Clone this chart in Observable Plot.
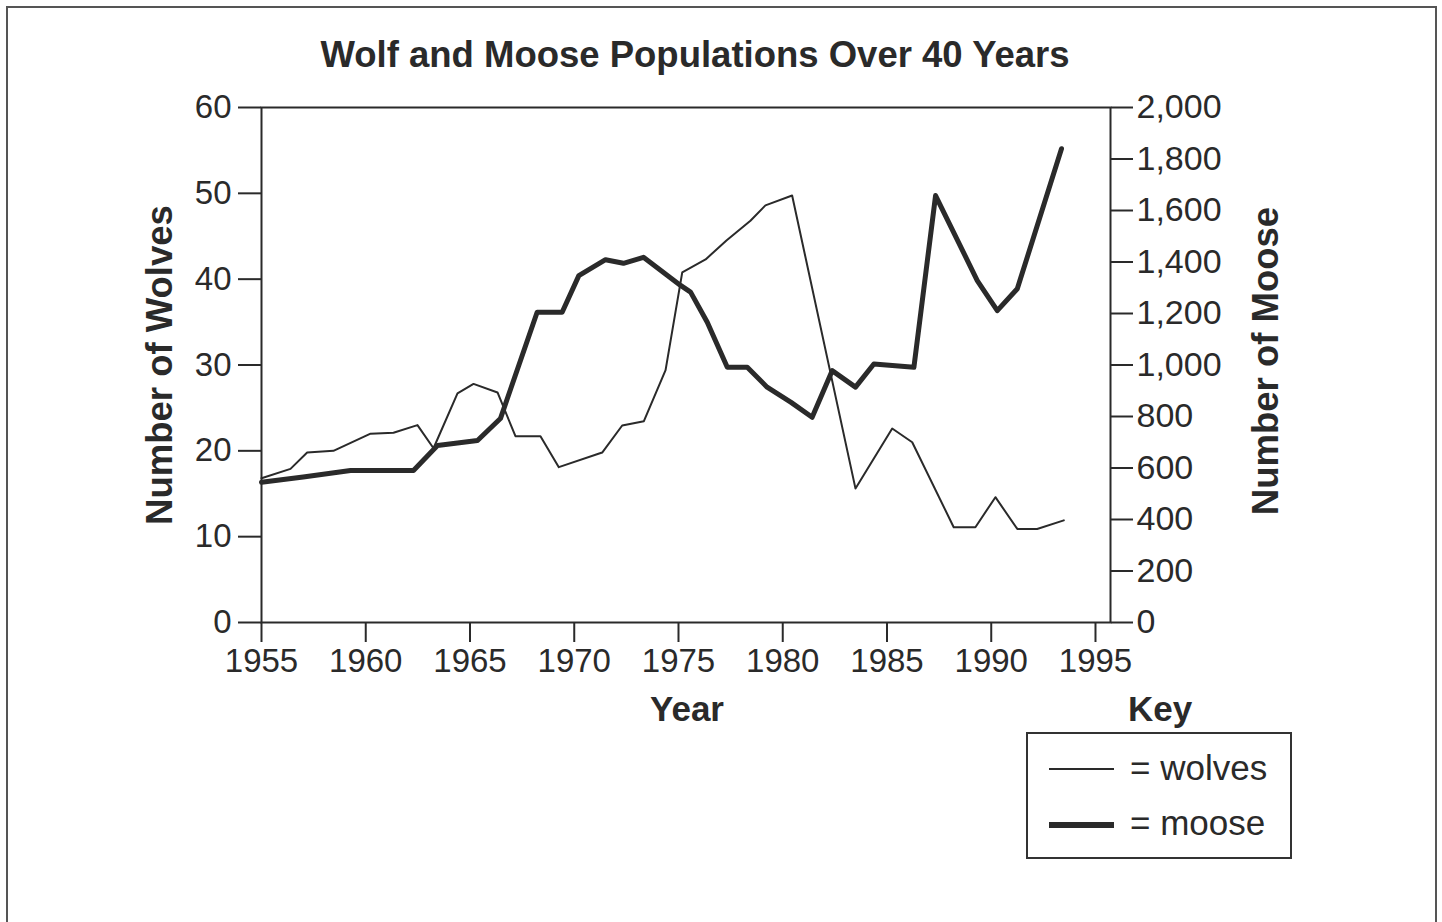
<!DOCTYPE html>
<html>
<head>
<meta charset="utf-8">
<script src="https://cdn.jsdelivr.net/npm/d3@7"></script>
<script src="https://cdn.jsdelivr.net/npm/@observablehq/plot@0.6"></script>
<style>
  html, body { margin: 0; padding: 0; background: #fff; }
  #page { position: relative; width: 1442px; height: 922px; overflow: hidden; font-family: "Liberation Sans", Arial, sans-serif; color: #2a2a2a; }
  #border { position: absolute; left: 6px; top: 6px; width: 1431px; height: 940px; border: 2px solid #555; box-sizing: border-box; }
  #chart { position: absolute; left: 0; top: 0; }
  .t { position: absolute; white-space: nowrap; line-height: 1; }
  #title { left: 695px; top: 37px; transform: translateX(-50%); font-weight: bold; font-size: 36.5px; }
  #xlabel { left: 687px; top: 691px; transform: translateX(-50%); font-weight: bold; font-size: 35px; }
  #ylabel { left: 160px; top: 365px; transform: translate(-50%, -50%) rotate(-90deg); font-weight: bold; font-size: 36.5px; }
  #y2label { left: 1266px; top: 361px; transform: translate(-50%, -50%) rotate(-90deg); font-weight: bold; font-size: 36.5px; }
  #key { left: 1160px; top: 691px; transform: translateX(-50%); font-weight: bold; font-size: 35px; }
  #legend { position: absolute; left: 1026px; top: 732px; width: 266px; height: 127px; border: 2px solid #333; box-sizing: border-box; }
  .row { position: absolute; left: 0; width: 262px; height: 40px; }
  .sw { position: absolute; left: 21px; width: 65px; background: #2a2a2a; }
  .lt { position: absolute; left: 102px; font-size: 35px; line-height: 1; white-space: nowrap; }
</style>
</head>
<body>
<div id="page">
  <div id="border"></div>
  <div id="chart"></div>
  <div class="t" id="title">Wolf and Moose Populations Over 40 Years</div>
  <div class="t" id="xlabel">Year</div>
  <div class="t" id="ylabel">Number of Wolves</div>
  <div class="t" id="y2label">Number of Moose</div>
  <div class="t" id="key">Key</div>
  <div id="legend">
    <div class="row" style="top:14px"><div class="sw" style="top:20px;height:2px"></div><div class="lt" style="top:2px">= wolves</div></div>
    <div class="row" style="top:69px"><div class="sw" style="top:19px;height:6px"></div><div class="lt" style="top:2px">= moose</div></div>
  </div>
</div>
<script>
// Wolves (left axis)
const wolfYears = [1955.0, 1956.39, 1957.19, 1958.45, 1960.23, 1961.33, 1962.48, 1963.25, 1964.4, 1965.17, 1966.32, 1967.18, 1968.38, 1969.26, 1971.34, 1972.3, 1973.34, 1974.38, 1975.18, 1976.3, 1977.3, 1978.45, 1979.17, 1980.45, 1983.49, 1985.25, 1986.21, 1988.2, 1989.24, 1990.2, 1991.25, 1992.2, 1993.48];
const wolves    = [16.8, 17.9, 19.8, 20.0, 22.0, 22.1, 23.0, 20.3, 26.7, 27.8, 26.8, 21.7, 21.7, 18.1, 19.8, 22.95, 23.45, 29.4, 40.8, 42.3, 44.5, 46.8, 48.6, 49.75, 15.6, 22.6, 21.0, 11.1, 11.1, 14.6, 10.9, 10.9, 11.9];

// Moose (right axis)
const mooseYears = [1955.0, 1957.0, 1959.27, 1962.29, 1963.44, 1965.36, 1966.46, 1968.22, 1969.42, 1970.22, 1971.5, 1972.36, 1973.32, 1975.1, 1975.58, 1976.38, 1977.34, 1978.3, 1979.25, 1980.4, 1981.41, 1982.37, 1983.49, 1984.37, 1986.29, 1987.33, 1989.33, 1990.29, 1991.25, 1993.37];
const moose      = [545, 565, 590, 590, 687, 707, 792, 1205, 1205, 1347, 1409, 1395, 1418, 1309, 1283, 1166, 991, 991, 914, 855, 797, 978, 914, 1004, 991, 1658, 1328, 1211, 1296, 1840];

// Axis ticks
const yearTicks  = [1955, 1960, 1965, 1970, 1975, 1980, 1985, 1990, 1995];
const wolfTicks  = [0, 10, 20, 30, 40, 50, 60];
const mooseTicks = [0, 200, 400, 600, 800, 1000, 1200, 1400, 1600, 1800, 2000];

const wolfMax = 60, mooseMax = 2000;
const toWolfScale = m => m * wolfMax / mooseMax;

const wolfData  = wolfYears.map((y, i) => ({year: y, value: wolves[i]}));
const mooseData = mooseYears.map((y, i) => ({year: y, value: moose[i]}));

const ink = "#2a2a2a";

const plot = Plot.plot({
  width: 1442,
  height: 922,
  marginLeft: 261,
  marginRight: 332,
  marginTop: 107,
  marginBottom: 300,
  style: {fontFamily: "'Liberation Sans', Arial, sans-serif", fontSize: "33px", color: ink, background: "transparent", overflow: "visible"},
  x: {domain: [1955, 1995.72]},
  y: {domain: [0, wolfMax]},
  marks: [
    Plot.frame({stroke: ink, strokeWidth: 2}),
    Plot.axisX(yearTicks, {anchor: "bottom", tickSize: 20, tickPadding: 6, tickFormat: d => String(d), stroke: ink, strokeWidth: 2, fill: ink, label: null}),
    Plot.axisY(wolfTicks, {anchor: "left", tickSize: 23, tickPadding: 7, tickFormat: d => String(d), stroke: ink, strokeWidth: 2, fill: ink, label: null}),
    Plot.axisY(mooseTicks.map(toWolfScale), {anchor: "right", tickSize: 22, tickPadding: 4, fontSize: 34, tickFormat: d => d3.format(",")(Math.round(d * mooseMax / wolfMax)), stroke: ink, strokeWidth: 2, fill: ink, label: null}),
    Plot.line(wolfData, {x: "year", y: "value", stroke: ink, strokeWidth: 2, strokeLinejoin: "round"}),
    Plot.line(mooseData, {x: "year", y: d => toWolfScale(d.value), stroke: ink, strokeWidth: 5, strokeLinejoin: "round"})
  ]
});
document.getElementById("chart").appendChild(plot);
</script>
</body>
</html>
